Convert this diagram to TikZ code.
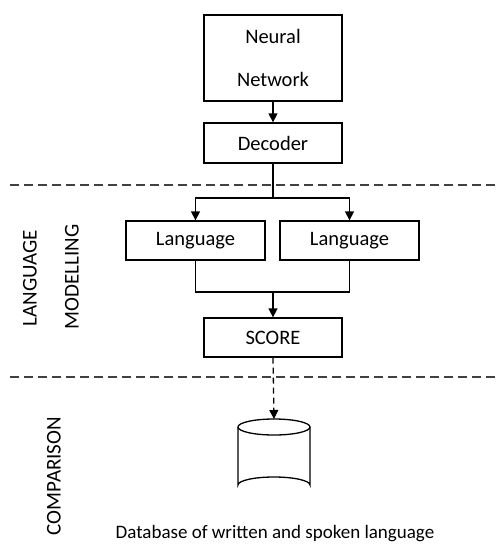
\documentclass[tikz,border=0pt]{standalone}
\usepackage{fontspec}
\setmainfont{Carlito}
\usetikzlibrary{arrows.meta}
\begin{document}
\begin{tikzpicture}[x=1pt,y=-1pt,
  box/.style={draw=black,line width=1.3pt,minimum width=138pt,minimum height=40pt,inner sep=0pt,font=\fontsize{20.5}{24}\selectfont},
  conn/.style={line width=1.3pt},
  arr/.style={conn,-{Triangle[width=9pt,length=9pt]}},
  sep/.style={line width=1.2pt,draw=black!75,dash pattern=on 9pt off 5pt},
  side/.style={rotate=90,font=\fontsize{21}{24}\selectfont},
]
\useasboundingbox (0,0) rectangle (496,547);
\node[box,minimum height=86pt,align=center] (nn) at (273,58) {Neural\\[19pt]Network};
\node[box] (dec) at (273,143) {Decoder};
\node[box,minimum width=139pt,minimum height=39pt] (l1) at (195.5,240.5) {Language};
\node[box,minimum width=139pt,minimum height=39pt] (l2) at (349.5,240.5) {Language};
\node[box,minimum height=39pt] (sc) at (273,337.5) {SCORE};
% separators
\coordinate (s1a) at (10,185); \coordinate (s1b) at (496,185);
\coordinate (s2a) at (10,377); \coordinate (s2b) at (496,377);
\draw[sep] (s1a) -- (s1b);
\draw[sep] (s2a) -- (s2b);
% connectors
\draw[arr] (nn) -- (dec);
\coordinate (split) at (273,198);
\draw[conn] (dec.south) -- (split);
\draw[arr] (split) -| (l1.north);
\draw[arr] (split) -| (l2.north);
\coordinate (join) at (273,292);
\draw[conn] (l1.south) |- (join) -| (l2.south);
\draw[arr] (join) -- (sc.north);
% database
\coordinate (db) at (274,419);
\draw[line width=1.3pt] (238,427) -- (238,485) arc[start angle=180,end angle=360,x radius=36,y radius=8] -- (310,427);
\draw[line width=1.3pt] (274,427) ellipse[x radius=36,y radius=8];
\draw[arr,dash pattern=on 6pt off 4pt] (sc.south) -- (db);
\node[font=\fontsize{19}{22}\selectfont] (dbl) at (275,534) {Database of written and spoken language};
% side labels
\node[side] (lang) at (30,278) {LANGUAGE};
\node[side] (mod) at (72,277) {MODELLING};
\node[side] (comp) at (54,476) {COMPARISON};
\end{tikzpicture}
\end{document}
